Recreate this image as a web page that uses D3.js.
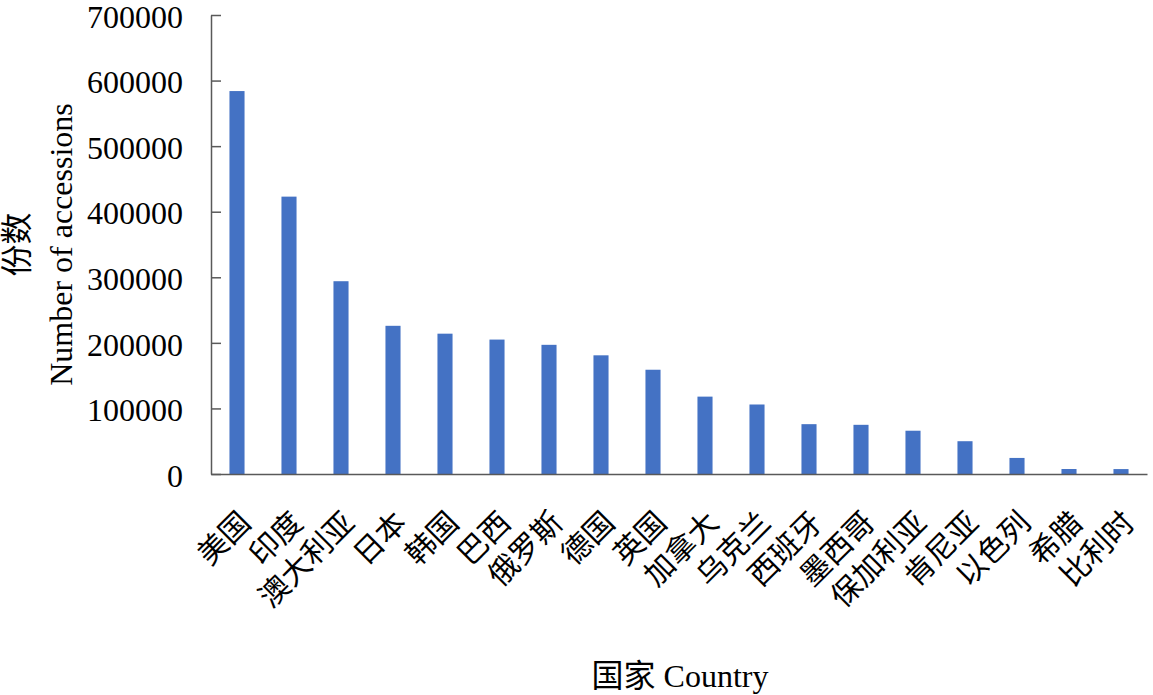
<!DOCTYPE html>
<html lang="zh">
	<head>
		<meta charset="utf-8">
		<title>Accessions by country</title>
		<script type="text/javascript" src="https://d3js.org/d3.v7.min.js"></script>
		<style>
			body { margin: 0; background: #fff; }
			.tick text { font-family: "Liberation Serif", "Times New Roman", serif; font-size: 32px; fill: #000; }
			.xlab { font-family: "Noto Sans CJK SC", sans-serif; font-size: 30px; fill: #000; }
			.title { font-family: "Liberation Serif", "Noto Sans CJK SC", serif; font-size: 32px; fill: #000; }
		</style>
	</head>
	<body>
		<script type="text/javascript">

			// data
			var countries = ["美国", "印度", "澳大利亚", "日本", "韩国", "巴西", "俄罗斯", "德国", "英国",
				"加拿大", "乌克兰", "西班牙", "墨西哥", "保加利亚", "肯尼亚", "以色列", "希腊", "比利时"];
			var accessions = [584000, 423000, 294000, 226000, 214000, 205000, 197000, 181000, 159000,
				118000, 106000, 76000, 75000, 66000, 50000, 24500, 7600, 7500];
			var yTicks = [0, 100000, 200000, 300000, 400000, 500000, 600000, 700000];

			var W = 1153, H = 695;
			var margin = {top: 15, right: 6, bottom: 221, left: 211},
				w = W - margin.left - margin.right,
				h = H - margin.top - margin.bottom;

			var svg = d3.select("body")
						.append("svg")
						.attr("width", W)
						.attr("height", H)
						.append("g")
						.attr("transform", "translate(" + margin.left + "," + margin.top + ")");

			var xScale = d3.scaleBand()
						   .domain(countries)
						   .range([0, w])
						   .paddingInner(0.71)
						   .paddingOuter(0.355);

			var yScale = d3.scaleLinear()
						   .domain([0, 700000])
						   .range([h, 0]);

			// bars
			svg.selectAll(".bar")
				.data(countries)
				.enter().append("rect")
				.attr("class", "bar")
				.attr("x", function(d) { return xScale(d); })
				.attr("y", function(d, i) { return yScale(accessions[i]); })
				.attr("width", xScale.bandwidth())
				.attr("height", function(d, i) { return h - yScale(accessions[i]); })
				.style("fill", "#4472C4");

			// y axis, ticks point inward
			var yAxis = d3.axisLeft(yScale)
						  .tickValues(yTicks)
						  .tickFormat(d3.format("d"))
						  .tickSizeInner(-10)
						  .tickSizeOuter(0)
						  .tickPadding(28);

			var gy = svg.append("g").attr("class", "axis").call(yAxis);
			gy.select(".domain").attr("stroke", "#595959").attr("stroke-width", 1.5);
			gy.selectAll(".tick line").attr("stroke", "#595959").attr("stroke-width", 1.5);
			gy.selectAll(".tick text").attr("dy", "0.38em");

			// x axis line only
			var xAxis = d3.axisBottom(xScale).tickSize(0).tickFormat("");
			var gx = svg.append("g").attr("transform", "translate(0," + h + ")").call(xAxis);
			gx.select(".domain").attr("stroke", "#595959").attr("stroke-width", 1.5);

			// rotated category labels
			svg.selectAll(".xlab")
				.data(countries)
				.enter().append("text")
				.attr("class", "xlab")
				.attr("text-anchor", "end")
				.attr("transform", function(d) {
					return "translate(" + (xScale(d) + xScale.bandwidth() / 2 + 8) + "," + (h + 43) + ") rotate(-45)";
				})
				.attr("dy", "0.35em")
				.text(function(d) { return d; });

			// axis titles
			svg.append("text")
				.attr("class", "title")
				.attr("transform", "rotate(-90)")
				.attr("x", -h / 2)
				.attr("y", -183)
				.attr("text-anchor", "middle")
				.text("份数");

			svg.append("text")
				.attr("class", "title")
				.attr("transform", "rotate(-90)")
				.attr("x", -h / 2)
				.attr("y", -139)
				.attr("text-anchor", "middle")
				.text("Number of accessions");

			svg.append("text")
				.attr("class", "title")
				.attr("x", 680 - margin.left)
				.attr("y", 687 - margin.top)
				.attr("text-anchor", "middle")
				.text("国家 Country");

		</script>
	</body>
</html>
